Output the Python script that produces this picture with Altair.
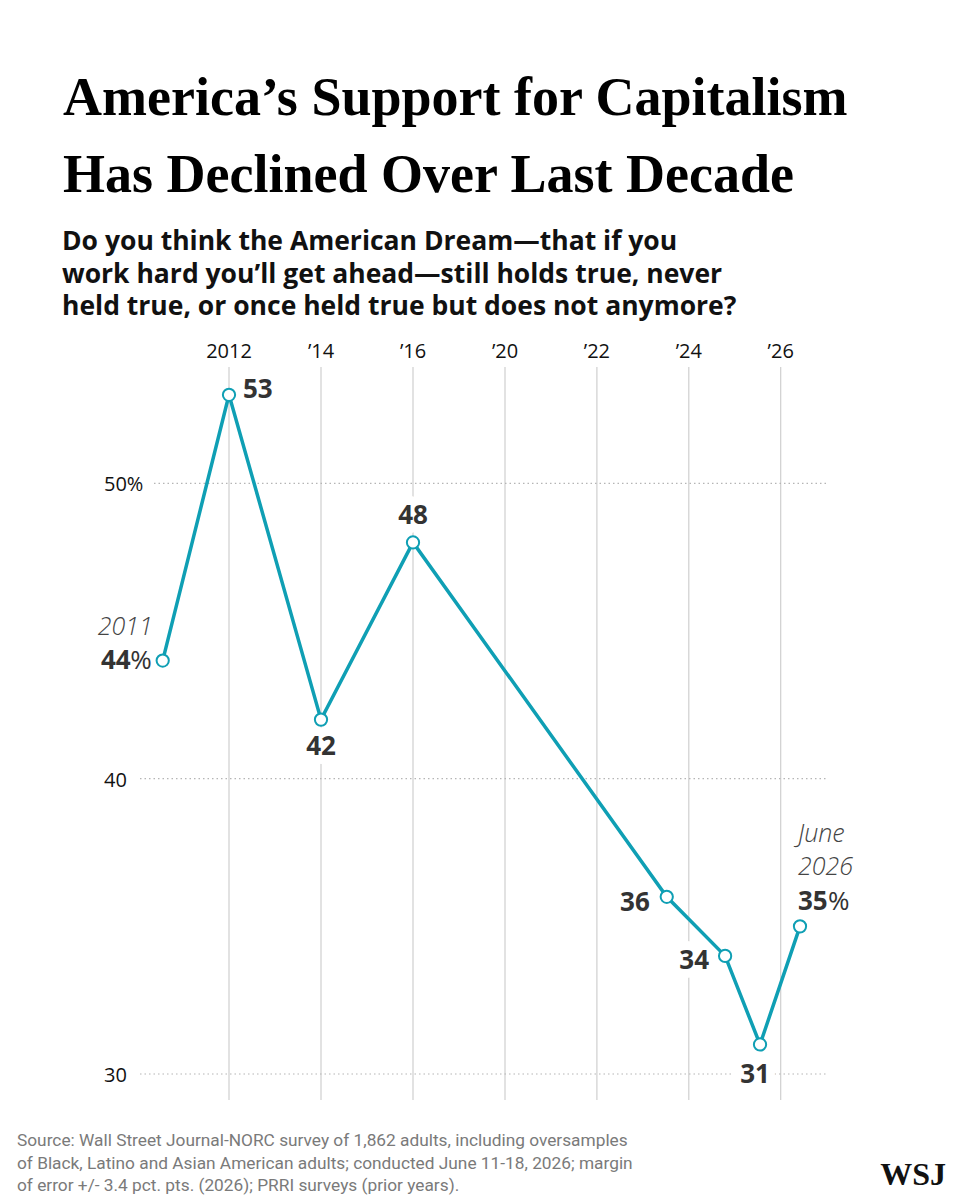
import altair as alt
import pandas as pd

# Share saying the American Dream still holds true, by survey date (decimal year)
survey_time = [2011, 2012, 2014, 2016, 2023.52, 2024.79, 2025.55, 2026.42]
share = [44, 53, 42, 48, 36, 34, 31, 35]

tick_years = [2012, 2014, 2016, 2020, 2022, 2024, 2026]
y_ticks = [30, 40, 50]

title_lines = ["America’s Support for Capitalism", "Has Declined Over Last Decade"]
subtitle_lines = [
    "Do you think the American Dream—that if you",
    "work hard you’ll get ahead—still holds true, never",
    "held true, or once held true but does not anymore?",
]
source_lines = [
    "Source: Wall Street Journal-NORC survey of 1,862 adults, including oversamples",
    "of Black, Latino and Asian American adults; conducted June 11-18, 2026; margin",
    "of error +/- 3.4 pct. pts. (2026); PRRI surveys (prior years).",
]

W, H = 678, 733
TEAL = "#0f9fb4"
INK = "#333333"
NUM_FONT = "Open Sans"

series = pd.DataFrame({"i": range(len(share)), "t": survey_time, "pct": share})
series["lbl"] = series["pct"].astype(str)
ticks = pd.DataFrame({"yr": tick_years})
grid = pd.DataFrame({"v": y_ticks})

# piecewise time axis: the 2016-2020 stretch is compressed
xscale = alt.Scale(domain=[2011, 2012, 2016, 2020, 2026.42],
                   range=[12.7, 79, 263, 355, 650], nice=False, zero=False)
yscale = alt.Scale(domain=[29.12, 53.94], nice=False, zero=False)

X = lambda f: alt.X(f, scale=xscale, axis=None)
Y = lambda f: alt.Y(f, scale=yscale, axis=None)

one = alt.Data(values=[{}])

# gridlines
vgrid = alt.Chart(ticks).mark_rule(color="#cfcfcf", strokeWidth=1.2).encode(
    x=X("yr:Q"), y=alt.value(0), y2=alt.value(H))
hgrid_low = alt.Chart(grid).transform_filter("datum.v < 50").mark_rule(
    color="#b5b5b5", strokeWidth=1.2, strokeDash=[1.5, 3]).encode(
    y=Y("v:Q"), x=alt.value(-10), x2=alt.value(W))
hgrid_top = alt.Chart(grid).transform_filter("datum.v == 50").mark_rule(
    color="#b5b5b5", strokeWidth=1.2, strokeDash=[1.5, 3]).encode(
    y=Y("v:Q"), x=alt.value(4), x2=alt.value(W))

xlabels = alt.Chart(ticks).transform_calculate(
    lab="datum.yr == 2012 ? '2012' : '’' + substring(toString(datum.yr), 2)"
).mark_text(font=NUM_FONT, fontSize=20, color="#111111", baseline="middle").encode(
    x=X("yr:Q"), y=alt.value(-15), text="lab:N")

ylabels = alt.Chart(grid).transform_calculate(
    lab="datum.v == 50 ? '50%' : toString(datum.v)"
).mark_text(font=NUM_FONT, fontSize=20, color="#111111", align="left",
            baseline="middle", dy=2).encode(
    y=Y("v:Q"), x=alt.value(-46), text="lab:N")

line = alt.Chart(series).mark_line(color=TEAL, strokeWidth=3.5).encode(
    x=X("t:Q"), y=Y("pct:Q"))
points = alt.Chart(series).mark_point(
    shape="circle", filled=True, fill="white", stroke=TEAL, strokeWidth=2,
    size=150, opacity=1).encode(x=X("t:Q"), y=Y("pct:Q"))

halos, texts = [], []


def point_text(i, dx, dy, align="center", text=None, size=26, weight="bold",
               style="normal", color=INK, halo=False):
    base = alt.Chart(series).transform_filter(f"datum.i == {i}")
    kw = dict(dx=dx, dy=dy, align=align, baseline="middle", fontSize=size,
              fontWeight=weight, fontStyle=style, font=NUM_FONT)
    if text is not None:
        kw["text"] = text
    enc = dict(x=X("t:Q"), y=Y("pct:Q"))
    if text is None:
        enc["text"] = alt.Text("lbl:N")
    if halo:
        halos.append(base.mark_text(color="white", stroke="white", strokeWidth=18,
                                    strokeJoin="round", **kw).encode(**enc))
    texts.append(base.mark_text(color=color, **kw).encode(**enc))


# 2011 start label
point_text(0, -10, -34, "right", text="2011", size=25, weight=300, style="italic", color="#444444")
point_text(0, -32, 0, "right")
point_text(0, -11, 0, "right", text="%", weight="normal")
point_text(1, 14, -5, "left")
point_text(2, 0, 27, "center", halo=True)
point_text(3, 0, -26, "center", halo=True)
point_text(4, -17, 6, "right")
point_text(5, -16, 5, "right", halo=True)
point_text(6, -5, 31, "center", halo=True)
# latest reading
point_text(7, -2, -92, "left", text="June", size=25, weight=300, style="italic", color="#444444")
point_text(7, -2, -59, "left", text="2026", size=25, weight=300, style="italic", color="#444444")
point_text(7, -2, -24, "left")
point_text(7, 28, -24, "left", text="%", weight="normal")


def free_text(txt, x, y, **kw):
    return alt.Chart(one).mark_text(text=txt, align="left", baseline="alphabetic", **kw).encode(
        x=alt.value(x), y=alt.value(y))


head = []
for k, t in enumerate(title_lines):
    head.append(free_text(t, -87, -252 + 77 * k, font="Liberation Serif",
                          fontWeight="bold", fontSize=54, color="#000000"))
for k, t in enumerate(subtitle_lines):
    head.append(free_text(t, -88, -117 + 32.5 * k, font="Open Sans",
                          fontWeight="bold", fontSize=26.5, color="#111111"))
for k, t in enumerate(source_lines):
    head.append(free_text(t, -133, 779 + 22.5 * k, font="Roboto",
                          fontSize=17.3, color="#7a7a7a"))
head.append(alt.Chart(one).mark_text(text="WSJ", align="right", baseline="alphabetic",
                                     font="Liberation Serif", fontWeight="bold",
                                     fontSize=32, color="#111111").encode(
    x=alt.value(796), y=alt.value(818)))

chart = alt.layer(
    vgrid, hgrid_low, hgrid_top, *halos, line, points, xlabels, ylabels, *texts, *head
).properties(
    width=W, height=H,
    padding={"left": 150, "top": 367, "right": 132, "bottom": 100},
    autosize=alt.AutoSizeParams(type="none"),
    background="white",
).configure_view(stroke=None)

chart.save("out.html", embed_options={"renderer": "svg", "actions": False})
